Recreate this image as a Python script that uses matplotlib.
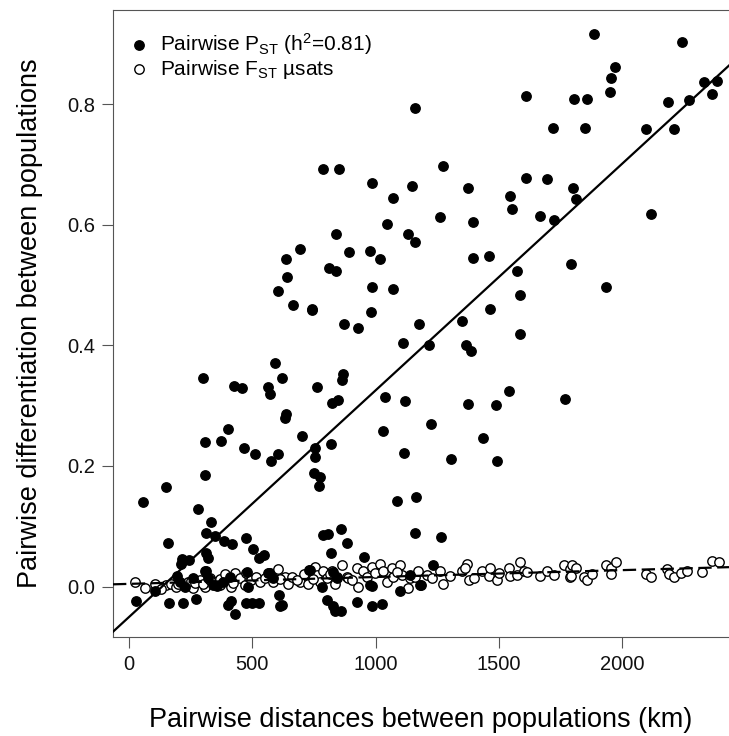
import matplotlib
matplotlib.use("Agg")
import matplotlib.pyplot as plt
import numpy as np

plt.rcParams['font.family'] = ['Liberation Sans', 'DejaVu Sans']
plt.rcParams['mathtext.default'] = 'regular'

# pairwise P_ST (filled) - distance km, value
pst_x = [1159, 785, 850, 984, 1147, 1071, 1044, 839, 1130, 1159, 693, 635, 892, 976, 1019,
         812, 839, 639, 603, 984, 1071, 663, 740, 742, 980, 870, 927, 1175,
         1886, 2242, 1970, 1954, 1950, 2331, 2382, 2363, 1609, 1804, 1858, 2185, 2269,
         1717, 1849, 2094, 2208, 1273, 1373, 1608, 1694, 1543, 1801, 1812, 1553, 1261,
         1396, 1667, 1723, 2115, 1396, 1459, 1574, 1790, 1586, 1934, 1465, 1351,
         1110, 1216, 1365, 1385, 1586, 1540, 1373, 1486, 1767, 1225, 1435, 1304, 1491,
         1265, 1234, 1184,
         58, 148, 299, 427, 459, 591, 562, 571, 621, 763, 866, 863, 824, 849, 1038, 1119,
         1030, 1113, 1085, 1163, 1159, 308, 372, 403, 464, 512, 574, 605, 702, 753, 755,
         818, 749, 776, 770, 635, 632, 308, 278, 332, 312, 349, 157, 385, 416, 473, 503,
         528, 547, 312, 321, 214, 244, 209, 785, 805, 861, 885, 818, 954, 729, 196, 311,
         27, 105, 163, 220, 272, 400, 412, 431, 473, 497, 525, 608, 612, 620, 804, 828,
         835, 858, 923, 986, 1024, 1098, 1178, 984, 355, 477, 569, 828,
         205, 226, 259, 307, 320, 340, 381, 482, 565, 585, 734, 842, 781, 977, 1139, 408]
pst_y = [0.793, 0.692, 0.692, 0.669, 0.664, 0.645, 0.601, 0.585, 0.584, 0.572, 0.559, 0.543,
         0.554, 0.556, 0.543, 0.529, 0.524, 0.513, 0.490, 0.496, 0.493, 0.467, 0.460, 0.458,
         0.456, 0.436, 0.428, 0.436,
         0.917, 0.903, 0.862, 0.844, 0.820, 0.837, 0.838, 0.816, 0.813, 0.808, 0.808, 0.804,
         0.806, 0.760, 0.760, 0.759, 0.759, 0.697, 0.661, 0.677, 0.676, 0.647, 0.661, 0.643,
         0.626, 0.612, 0.604, 0.615, 0.608, 0.617, 0.545, 0.548, 0.523, 0.535, 0.483, 0.497,
         0.461, 0.441,
         0.403, 0.400, 0.400, 0.391, 0.419, 0.324, 0.303, 0.301, 0.311, 0.269, 0.246, 0.212,
         0.208, 0.082, 0.036, 0.003,
         0.140, 0.165, 0.345, 0.333, 0.330, 0.370, 0.331, 0.320, 0.345, 0.331, 0.353, 0.342,
         0.304, 0.309, 0.315, 0.308, 0.258, 0.221, 0.142, 0.148, 0.088, 0.239, 0.241, 0.261,
         0.229, 0.219, 0.208, 0.220, 0.249, 0.230, 0.214, 0.237, 0.188, 0.182, 0.167, 0.286,
         0.280, 0.185, 0.128, 0.107, 0.088, 0.083, 0.073, 0.075, 0.071, 0.080, 0.062, 0.048,
         0.052, 0.055, 0.048, 0.045, 0.044, 0.038, 0.085, 0.087, 0.095, 0.073, 0.055, 0.049,
         0.027, 0.017, 0.026,
         -0.024, -0.007, -0.027, -0.027, -0.021, -0.030, -0.024, -0.046, -0.028, -0.028,
         -0.027, -0.014, -0.033, -0.031, -0.022, -0.033, -0.041, -0.040, -0.025, -0.032,
         -0.029, -0.007, 0.002, 0.001, 0.001, 0.024, 0.022, 0.024,
         0.008, 0.000, 0.014, 0.025, 0.014, 0.002, 0.008, 0.000, 0.022, 0.014, 0.027, 0.014,
         0.000, 0.002, 0.019, 0.016]

# pairwise F_ST microsatellites (open)
fst_x = [23, 64, 104, 151, 171, 192, 219, 239, 259, 286, 307, 327, 347, 368, 388, 401, 415,
         428, 449, 469, 476, 496, 516, 530, 550, 128, 200, 250, 268, 300, 330, 370, 390, 420,
         572, 605, 585, 632, 646, 659, 693, 727, 755, 761, 774, 788, 801, 822, 835, 842, 862,
         882, 889, 923, 929, 950, 963, 984, 997, 1017, 1031, 1044, 1064, 1071, 1098, 1105,
         1132, 1139, 1159, 1173, 610, 680, 710, 745, 815, 905, 1085,
         1208, 1228, 1262, 1273, 1302, 1350, 1370, 1363, 1377, 1397, 1431, 1458, 1465, 1492,
         1499, 1539, 1546, 1572, 1586, 1600, 1613, 1667, 1694, 1721, 1762, 1789, 1789,
         1797, 1811, 1790, 1844, 1858, 1878, 1932, 1953, 1973, 1953, 2095, 2115, 2182, 2189,
         2209, 2236, 2263, 2324, 2364, 2392]
fst_y = [0.008, -0.003, 0.005, 0.002, 0.005, 0.000, 0.002, 0.008, -0.003, 0.011, 0.000, 0.014,
         0.008, 0.002, 0.016, 0.011, 0.000, 0.022, 0.014, 0.002, 0.022, 0.011, 0.016, 0.008,
         0.014, -0.004, 0.004, 0.009, 0.006, 0.004, 0.010, 0.012, 0.020, 0.006,
         0.022, 0.029, 0.008, 0.016, 0.005, 0.016, 0.007, 0.005, 0.033, 0.019, 0.008, 0.025,
         0.014, 0.025, 0.005, 0.016, 0.036, 0.016, 0.014, 0.030, 0.000, 0.025, 0.016, 0.033,
         0.022, 0.037, 0.026, 0.008, 0.031, 0.016, 0.035, 0.019, -0.003, 0.014, 0.016, 0.025,
         0.012, 0.010, 0.020, 0.012, 0.020, 0.010, 0.024,
         0.019, 0.014, 0.026, 0.004, 0.018, 0.025, 0.038, 0.030, 0.011, 0.014, 0.025, 0.018,
         0.030, 0.011, 0.022, 0.030, 0.018, 0.019, 0.041, 0.026, 0.024, 0.018, 0.025, 0.019,
         0.035, 0.029, 0.016,
         0.036, 0.031, 0.018, 0.016, 0.011, 0.020, 0.035, 0.030, 0.040, 0.020, 0.020, 0.016,
         0.029, 0.020, 0.016, 0.022, 0.026, 0.024, 0.042, 0.040]

# regression fits (intercept, slope per km)
pst_fit = (-0.0505, 0.000376)
fst_fit = (0.0044, 0.0000114)

xticks = [0, 500, 1000, 1500, 2000]
yticks = [0.0, 0.2, 0.4, 0.6, 0.8]

fig = plt.figure(figsize=(7.29, 7.36), dpi=100)
ax = fig.add_axes([113 / 729, 99 / 736, 616 / 729, 627 / 736])

ax.scatter(fst_x, fst_y, s=46, facecolors='white', edgecolors='black', linewidths=1.0,
           zorder=2, label='Pairwise F$_{ST}$ \u00b5sats')
ax.scatter(pst_x, pst_y, s=46, color='black', zorder=3, label='Pairwise P$_{ST}$ (h$^2$=0.81)')

ax.axline((0, pst_fit[0]), slope=pst_fit[1], color='black', lw=1.6, zorder=4)
ax.axline((0, fst_fit[0]), slope=fst_fit[1], color='black', lw=1.6, dashes=(6, 2.5), zorder=4)

ax.set_xlim(-65, 2432)
ax.set_ylim(-0.0837, 0.956)
ax.set_xticks(xticks)
ax.set_yticks(yticks)
ax.set_yticklabels(['%.1f' % v for v in yticks])
ax.tick_params(length=8, width=0.8, color='#555555', labelsize=14.5, pad=5,
               labelcolor='#111111')
for side in ['left', 'bottom', 'top']:
    ax.spines[side].set_color('#555555')
ax.spines['right'].set_visible(False)

ax.set_xlabel('Pairwise distances between populations (km)', fontsize=19.5, labelpad=24)
ax.set_ylabel('Pairwise differentiation between populations', fontsize=19.5, labelpad=17)

h, l = ax.get_legend_handles_labels()
ax.legend(h[::-1], l[::-1], loc='upper left', bbox_to_anchor=(0.0203, 0.9665), frameon=False,
          fontsize=15, handletextpad=0.36, borderaxespad=0, borderpad=0,
          labelspacing=0.05, handlelength=1.3)

fig.savefig('out.png', dpi=100)
